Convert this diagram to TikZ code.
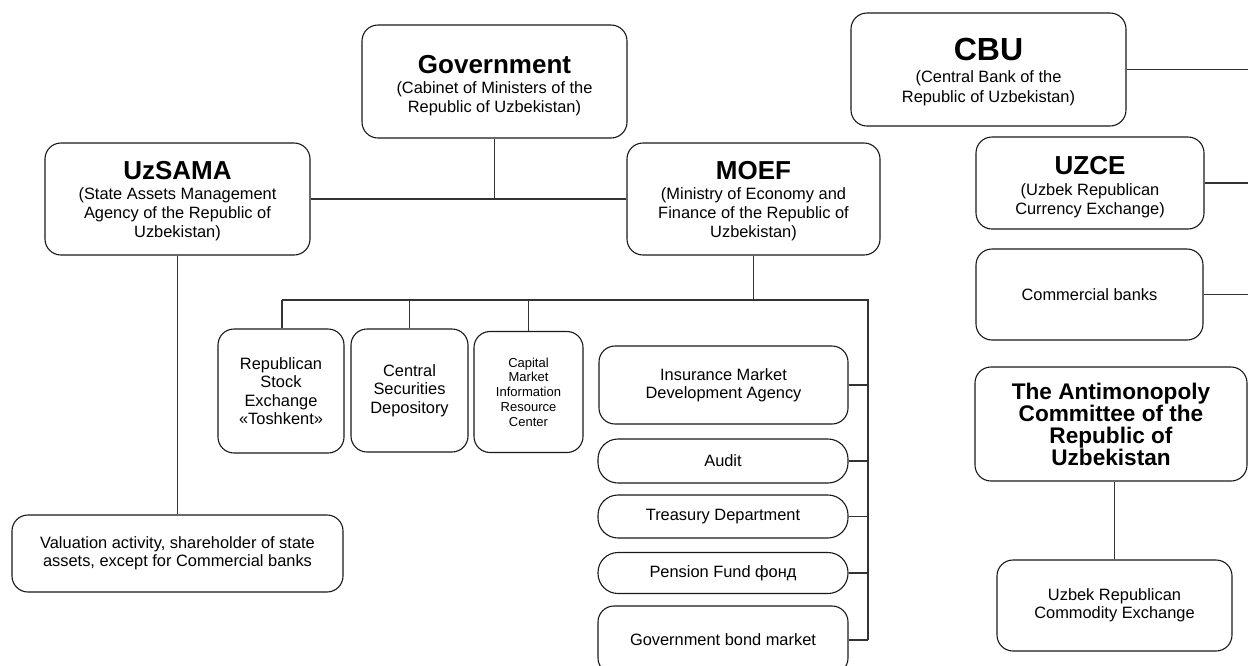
\documentclass[tikz,border=0pt]{standalone}
\usepackage{fontspec}
\setmainfont{Liberation Sans}
\newcommand\TitleF{\fontsize{26}{28}\selectfont\bfseries}
\newcommand\BigF{\fontsize{32}{34}\selectfont\bfseries}
\newcommand\SubF{\fontsize{16.4}{19}\selectfont\mdseries}
\newcommand\NormF{\fontsize{16.4}{18.4}\selectfont}
\newcommand\TinyF{\fontsize{13}{14.7}\selectfont}
\newcommand\AmF{\fontsize{22.6}{22}\selectfont\bfseries}
\begin{document}
\begin{tikzpicture}[x=1pt,y=-1pt,
  box/.style={draw=black!90, line width=1.1pt, rounded corners=16pt, align=center, inner sep=2pt, font=\NormF},
  pill/.style={box, rounded corners=20pt},
  txt/.style={align=center, inner sep=0pt, font=\SubF},
  conn/.style={draw=black!80, line width=1.1pt}]
\useasboundingbox (0,0) rectangle (1248,665);
\clip (0,0) rectangle (1248,665);
\fill[white] (0,0) rectangle (1248,665);
\coordinate (E) at (1248,0);
\coordinate (busL) at (282,300);
\coordinate (busR) at (868,300);

% top level
\node[box, minimum width=265, minimum height=113] (gov) at (494.5,81.5) {};
\node[txt] (govT) at ([yshift=-4pt]gov.center)
  {\TitleF Government\\[1pt]\SubF (Cabinet of Ministers of the\\Republic of Uzbekistan)};
\node[box, minimum width=265, minimum height=112] (uzsama) at (177.5,199) {};
\node[txt] (uzsamaT) at ([yshift=-2pt]uzsama.center)
  {\TitleF UzSAMA\\[1pt]\SubF (State Assets Management\\Agency of the Republic of\\Uzbekistan)};
\node[box, minimum width=253, minimum height=112] (moef) at (753.5,199) {};
\node[txt] (moefT) at ([yshift=-2pt]moef.center)
  {\TitleF MOEF\\[1pt]\SubF (Ministry of Economy and\\Finance of the Republic of\\Uzbekistan)};
\node[box, minimum width=331, minimum height=77] (val) at (177.5,553.5)
  {Valuation activity, shareholder of state\\assets, except for Commercial banks};

% MOEF children
\node[box, minimum width=126, minimum height=124] (rse) at (281,391)
  {Republican\\Stock\\Exchange\\«Toshkent»};
\node[box, minimum width=117, minimum height=123] (csd) at (409.5,390.5)
  {Central\\Securities\\Depository};
\node[box, minimum width=109, minimum height=121, font=\TinyF] (cmirc) at (528.5,392)
  {Capital\\Market\\Information\\Resource\\Center};
\node[box, minimum width=249, minimum height=78] (ins) at (723.5,385)
  {Insurance Market\\Development Agency};
\node[pill, minimum width=250, minimum height=44] (aud) at (723,461) {Audit};
\node[pill, minimum width=250, minimum height=43] (tre) at (723,516.5) {Treasury Department};
\node[pill, minimum width=250, minimum height=41] (pen) at (723,573) {Pension Fund фонд};
\node[box, minimum width=250, minimum height=68] (gbm) at (723,640) {Government bond market};

% right column
\node[box, minimum width=275, minimum height=113] (cbu) at (988.5,69.5) {};
\node[txt, font=\fontsize{16.4}{20.5}\selectfont] (cbuT) at ([yshift=-3pt]cbu.center)
  {\BigF CBU\\[1pt]\mdseries(Central Bank of the\\Republic of Uzbekistan)};
\node[box, minimum width=228, minimum height=92] (uzce) at (1090,183) {};
\node[txt] (uzceT) at ([yshift=-4pt]uzce.center)
  {\TitleF UZCE\\[2pt]\SubF (Uzbek Republican\\Currency Exchange)};
\node[box, minimum width=227, minimum height=91] (cb) at (1089.5,294.5) {Commercial banks};
\node[box, minimum width=272, minimum height=114, font=\AmF] (am) at (1111,424)
  {The Antimonopoly\\Committee of the\\Republic of\\Uzbekistan};
\node[box, minimum width=235, minimum height=91] (uce) at (1114.5,605.5)
  {Uzbek Republican\\Commodity Exchange};

% connectors
\draw[conn] (gov.south) -- (gov.south |- uzsama.east);
\draw[conn] (uzsama.east) -- (moef.west);
\draw[conn] (uzsama.south) -- (val.north);
\draw[conn] (moef.south) -- (moef.south |- busL);
\draw[conn] (busL) -- (busR) -- (busR |- gbm.east);
\draw[conn] (busL) -- (rse.north -| busL);
\draw[conn] (csd.north |- busL) -- (csd.north);
\draw[conn] (cmirc.north |- busL) -- (cmirc.north);
\draw[conn] (ins.east) -- (ins.east -| busR);
\draw[conn] (aud.east) -- (aud.east -| busR);
\draw[conn] (tre.east) -- (tre.east -| busR);
\draw[conn] (pen.east) -- (pen.east -| busR);
\draw[conn] (gbm.east) -- (gbm.east -| busR);
\draw[conn] (cbu.east) -- (cbu.east -| E);
\draw[conn] (uzce.east) -- (uzce.east -| E);
\draw[conn] (cb.east) -- (cb.east -| E);
\draw[conn] (uce.north |- am.south) -- (uce.north);
\end{tikzpicture}
\end{document}
